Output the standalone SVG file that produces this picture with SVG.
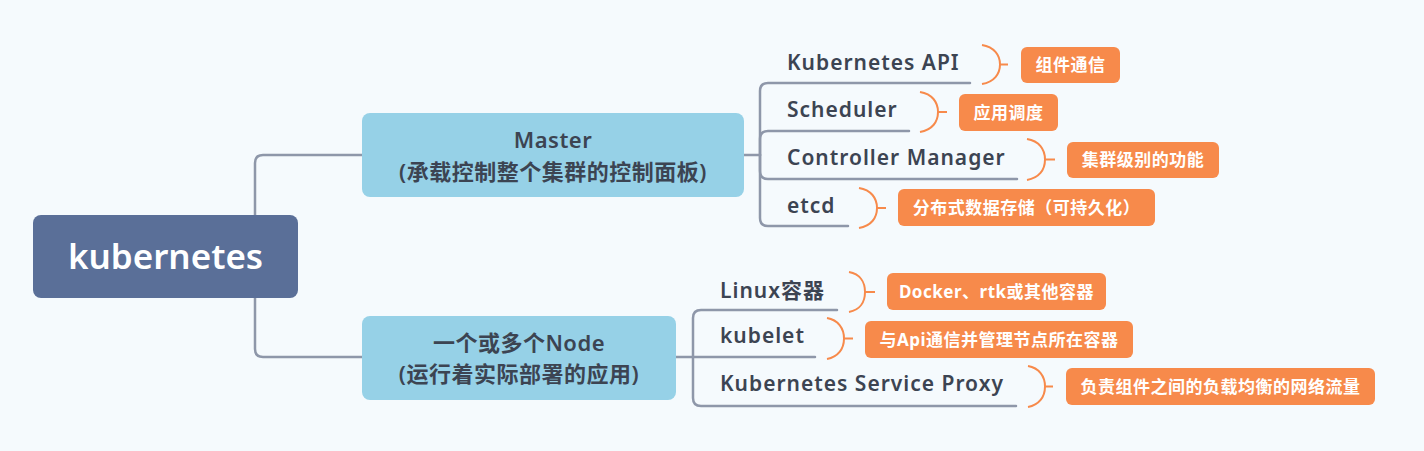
<svg xmlns="http://www.w3.org/2000/svg" width="1424" height="451" viewBox="0 0 1424 451">
<defs>
<style>
.bg{fill:#f5fafd}
.conn{fill:none;stroke:#8e97a9;stroke-width:2.5;stroke-linecap:round}
.brace{fill:none;stroke:#f78a4b;stroke-width:2}
.root{fill:#5a6f98}
.main{fill:#96d1e7}
.tag{fill:#f78a4b}
text{font-family:"Noto Sans","Noto Sans CJK SC",sans-serif}
.rt{fill:#ffffff;font-size:35px;font-weight:600;text-anchor:middle}
.mt{fill:#3c4452;font-size:22px;font-weight:600;text-anchor:middle;letter-spacing:0.5px}
.ct{fill:#3c4452;font-size:21px;font-weight:600;letter-spacing:1px}
.tt{fill:#ffffff;font-size:17px;font-weight:700;text-anchor:middle;letter-spacing:0.5px}
</style>
</defs>
<rect class="bg" x="0" y="0" width="1424" height="451"/>
<g id="connectors">
<path class="conn" d="M255,215 V163 Q255,155 263,155 H362"/>
<path class="conn" d="M255,298 V349 Q255,357 263,357 H362"/>
<path class="conn" d="M744,155 H760"/>
<path class="conn" d="M760,155 V91 Q760,83 768,83 H970"/>
<path class="conn" d="M760,155 V139 Q760,131 768,131 H909"/>
<path class="conn" d="M760,155 V171 Q760,179 768,179 H1017"/>
<path class="conn" d="M760,155 V218 Q760,226 768,226 H848"/>
<path class="conn" d="M676,357 H693"/>
<path class="conn" d="M693,357 V318 Q693,310 701,310 H837"/>
<path class="conn" d="M693,357 H815"/>
<path class="conn" d="M693,357 V398 Q693,406 701,406 H1016"/>
</g>
<g id="root">
<rect class="root" x="33" y="215" width="265" height="83" rx="8"/>
<text class="rt" x="165.5" y="269">kubernetes</text>
</g>
<g id="master">
<rect class="main" x="362" y="113" width="382" height="84" rx="8"/>
<text class="mt" x="553" y="148">Master</text>
<text class="mt" x="553" y="180">(承载控制整个集群的控制面板)</text>
</g>
<g id="node">
<rect class="main" x="362" y="316" width="314" height="84" rx="8"/>
<text class="mt" x="519" y="351">一个或多个Node</text>
<text class="mt" x="519" y="382">(运行着实际部署的应用)</text>
</g>
<g id="kubernetes-api">
<text class="ct" x="787" y="70">Kubernetes API</text>
<path class="brace" d="M982,45 C994,47 1000,55 1000,64.5 C1000,74 994,82 982,84 M1000,64.5 H1008"/>
<rect class="tag" x="1021" y="47" width="99" height="36" rx="6"/>
<text class="tt" x="1070.5" y="71">组件通信</text>
</g>
<g id="scheduler">
<text class="ct" x="787" y="117">Scheduler</text>
<path class="brace" d="M920,92 C932,94 938,102 938,112 C938,122 932,130 920,132 M938,112 H947"/>
<rect class="tag" x="959" y="94" width="99" height="37" rx="6"/>
<text class="tt" x="1008.5" y="118.5">应用调度</text>
</g>
<g id="controller-manager">
<text class="ct" x="787" y="165">Controller Manager</text>
<path class="brace" d="M1027,139 C1039,141 1045,149 1045,159.5 C1045,170 1039,178 1027,180 M1045,159.5 H1055"/>
<rect class="tag" x="1067" y="142" width="152" height="36" rx="6"/>
<text class="tt" x="1143" y="166">集群级别的功能</text>
</g>
<g id="etcd">
<text class="ct" x="787" y="213">etcd</text>
<path class="brace" d="M859,188 C871,190 877,198 877,208 C877,218 871,226 859,228 M877,208 H886"/>
<rect class="tag" x="898" y="189" width="257" height="37" rx="6"/>
<text class="tt" x="1026.5" y="213.5">分布式数据存储（可持久化）</text>
</g>
<g id="linux">
<text class="ct" x="720" y="298">Linux容器</text>
<path class="brace" d="M849,272 C860,274 865,282 865,292 C865,302 860,310 849,312 M865,292 H875"/>
<rect class="tag" x="887" y="273" width="219" height="37" rx="6"/>
<text class="tt" x="996.5" y="297.5">Docker、rtk或其他容器</text>
</g>
<g id="kubelet">
<text class="ct" x="720" y="343">kubelet</text>
<path class="brace" d="M827,318 C838,320 844,328 844,338.5 C844,349 838,357 827,359 M844,338.5 H853"/>
<rect class="tag" x="865" y="321" width="268" height="37" rx="6"/>
<text class="tt" x="999" y="345.5">与Api通信并管理节点所在容器</text>
</g>
<g id="service-proxy">
<text class="ct" x="720" y="391">Kubernetes Service Proxy</text>
<path class="brace" d="M1028,366 C1039,368 1045,376 1045,386.5 C1045,397 1039,405 1028,407 M1045,386.5 H1053"/>
<rect class="tag" x="1066" y="368" width="309" height="37" rx="6"/>
<text class="tt" x="1220.5" y="392.5">负责组件之间的负载均衡的网络流量</text>
</g>
</svg>
